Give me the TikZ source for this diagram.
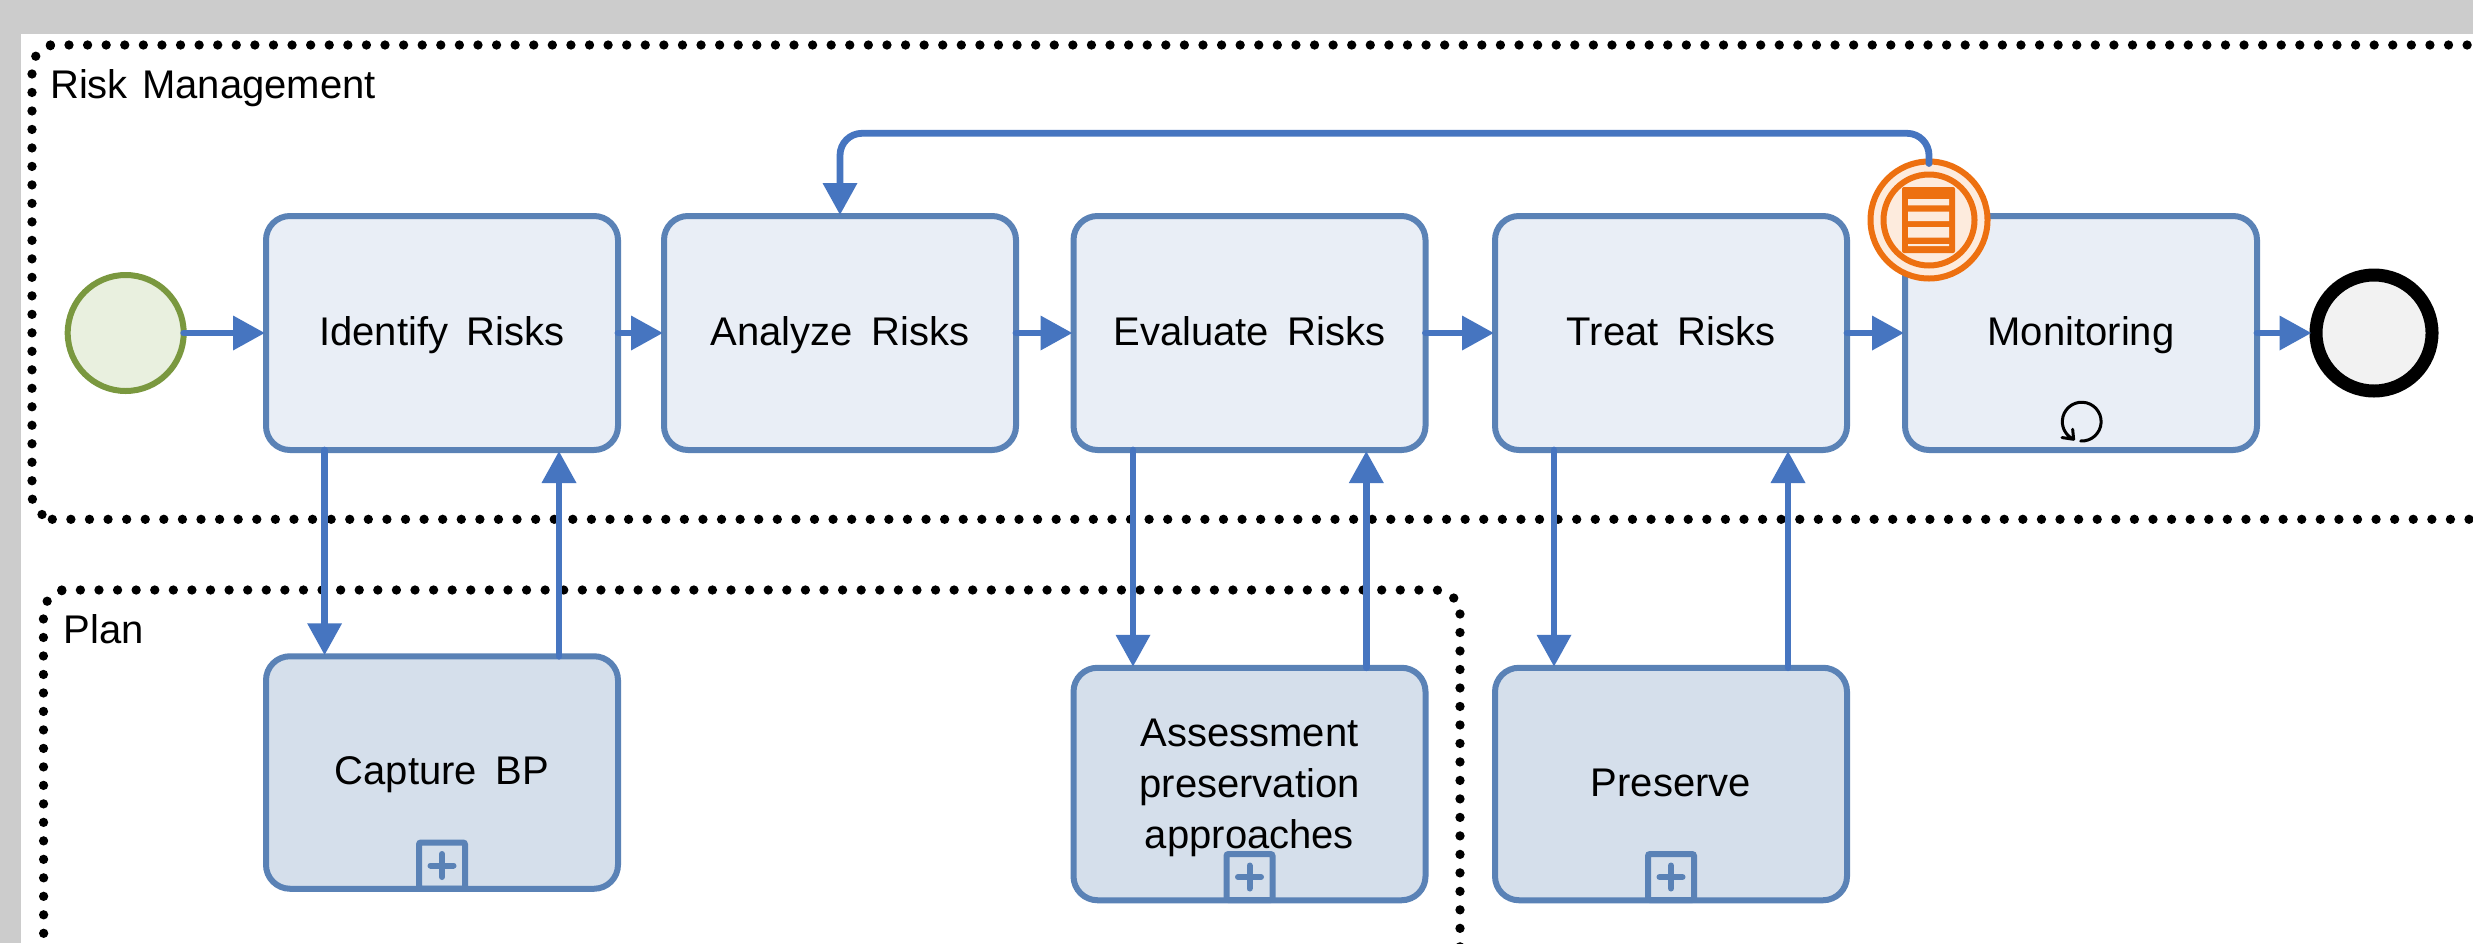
\documentclass[tikz,border=0pt]{standalone}
\usepackage{fontspec}
\setmainfont{Liberation Sans}
\newfontfamily\taskfont[WordSpace=1.4]{Liberation Sans}
\newfontfamily\groupfont[WordSpace=1.3]{Liberation Sans}
\usetikzlibrary{arrows.meta}
\definecolor{boxline}{HTML}{5A82B6}
\definecolor{flowc}{HTML}{4675C0}
\definecolor{taskfill}{HTML}{E9EEF6}
\definecolor{subfill}{HTML}{D5DFEB}
\definecolor{greenl}{HTML}{7A983F}
\definecolor{greenf}{HTML}{E9F0DF}
\definecolor{orangel}{HTML}{ED7010}
\definecolor{orangef}{HTML}{FDEBDD}
\definecolor{endf}{HTML}{F2F2F2}
\definecolor{frame}{HTML}{CCCCCC}
\tikzset{
  x=1pt,y=-1pt,
  every node/.style={inner sep=0pt,font=\fontsize{40}{51}\selectfont},
  taskbase/.style={draw=boxline,line width=6pt,rounded corners=24pt,fill=taskfill,
    minimum width=352pt,minimum height=234pt,font=\taskfont\fontsize{40}{51}\selectfont},
  task/.style={taskbase,text height=30pt,text depth=6pt},
  sub/.style={task,fill=subfill,minimum height=232.5pt},
  submulti/.style={taskbase,fill=subfill,minimum height=232.5pt,align=center},
  grouplabel/.style={anchor=base west,font=\groupfont\fontsize{40}{51}\selectfont},
  flow/.style={draw=flowc,line width=6.8pt,line cap=round,shorten <=-3pt,shorten >=-2pt,
    -{Triangle[length=32pt,width=33pt]}},
  dotsh/.style={draw=black,line width=9.3pt,line cap=round,dash pattern=on 0pt off 18.59pt},
  dotsv/.style={draw=black,line width=9.3pt,line cap=round,dash pattern=on 0pt off 18.49pt},
  evt/.style={circle,minimum size=#1},
  marker/.style={draw=boxline,line width=6pt,rounded corners=2pt,minimum size=46pt},
  plussign/.style={draw=boxline,line width=6pt,line cap=round},
}
\begin{document}
\begin{tikzpicture}
\useasboundingbox (0,0) rectangle (2473,943);
\clip (0,0) rectangle (2473,943);
\fill[frame] (0,0) rectangle (2473,943);
\fill[white] (21,34) rectangle (2473,943);
% Risk Management group
\draw[dotsh] (50.4,45) -- (2600,45);
\draw[dotsv] (50.4,45.66) arc[start angle=103.5,end angle=180,radius=24pt] -- (32,495) arc[start angle=180,end angle=235,radius=24pt];
\draw[dotsh] (52.3,519.3) -- (2600,519.3);
% Plan group
\draw[dotsv] (61.8,590.66) arc[start angle=103.5,end angle=180,radius=24pt] -- (43.7,1000);
\draw[dotsh] (61.8,590) -- (1436,590) arc[start angle=90,end angle=38,radius=24pt];
\draw[dotsv] (1460,614) -- (1460,1000);
\node[grouplabel] (riskmgmt) at (50,98) {Risk Management};
\node[grouplabel] (plan) at (63.5,643) {Plan};
% events and tasks
\node[evt=116pt,draw=greenl,line width=6pt,fill=greenf] (start) at (125.7,333) {};
\node[task] (identify) at (442,333) {Identify Risks};
\node[task] (analyze) at (840,333) {Analyze Risks};
\node[task] (evaluate) at (1249.5,333) {Evaluate Risks};
\node[task] (treat) at (1671,333) {Treat Risks};
\node[task] (monitoring) at (2081,333) {Monitoring};
\node[evt=116pt,draw=black,line width=13pt,fill=endf] (endevt) at (2374,333) {};
\node[sub] (capture) at (442,772.5) {Capture BP};
\node[submulti] (assess) at (1249.5,784) {\rule{0pt}{34.6pt}Assessment\\preservation\\approaches};
\node[sub] (preserve) at (1671,784) {Preserve};
% loop marker
\draw[black,line width=3pt,line cap=round,line join=round]
  (2080.7,441) arc[start angle=-93,end angle=245.4,radius=19.4pt] -- ++(-11.6,-1.7) ++(11.6,1.7) -- ++(-1,-10);
% plus markers
\foreach \n/\x/\y in {m1/442/865.5,m2/1249.5/877,m3/1671/877}{
  \node[marker] (\n) at (\x,\y) {};
  \draw[plussign] ([xshift=-11.5pt]\n.center) -- ([xshift=11.5pt]\n.center);
  \draw[plussign] ([yshift=-11.5pt]\n.center) -- ([yshift=11.5pt]\n.center);
}
% boundary event
\node[evt=117pt,draw=orangel,line width=6pt,fill=orangef] (boundary) at (1929,220) {};
\node[evt=91pt,draw=orangel,line width=6pt] (boundaryin) at (1929,220) {};
\fill[orangel,rounded corners=2pt] (1902,187) rectangle (1955,253);
\fill[orangef] (1908,199) rectangle (1949,205.3)
               (1908,211.7) rectangle (1949,221)
               (1908,227) rectangle (1949,237.7)
               (1908,244) rectangle (1949,246);
% flows
\coordinate (fb) at (1000,133.3);
\draw[flow] (start) -- (identify);
\draw[flow] (identify) -- (analyze);
\draw[flow] (analyze) -- (evaluate);
\draw[flow] (evaluate) -- (treat);
\draw[flow] (treat) -- (monitoring);
\draw[flow] (monitoring) -- (endevt);
\draw[flow,rounded corners=22pt,shorten <=-5pt] (boundary.north) -- (boundary.north |- fb) -- (analyze.north |- fb) -- (analyze.north);
\draw[flow] ([xshift=-117.4pt]identify.south) -- ([xshift=-117.4pt]capture.north);
\draw[flow] ([xshift=117pt]capture.north) -- ([xshift=117pt]identify.south);
\draw[flow] ([xshift=-116.5pt]evaluate.south) -- ([xshift=-116.5pt]assess.north);
\draw[flow] ([xshift=116.8pt]assess.north) -- ([xshift=116.8pt]evaluate.south);
\draw[flow] ([xshift=-117pt]treat.south) -- ([xshift=-117pt]preserve.north);
\draw[flow] ([xshift=117pt]preserve.north) -- ([xshift=117pt]treat.south);
\end{tikzpicture}
\end{document}
